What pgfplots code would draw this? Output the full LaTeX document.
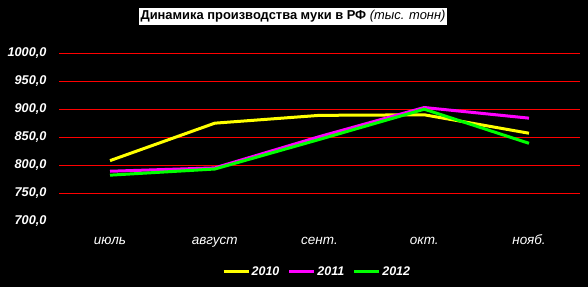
\documentclass[border=0pt]{standalone}
\usepackage{fontspec}
\setmainfont{Liberation Sans}
\usepackage{pgfplots}
\pgfplotsset{compat=1.18}
\definecolor{cyel}{RGB}{255,255,0}
\definecolor{cmag}{RGB}{255,0,255}
\definecolor{cgrn}{RGB}{0,255,0}
\definecolor{cred}{RGB}{255,0,0}
\begin{document}
\begin{tikzpicture}
\fill[black] (0pt,0pt) rectangle (588pt,287pt);
\node[fill=white, text=black, inner xsep=1.5pt, inner ysep=2.5pt, font=\fontsize{12.9}{15}\selectfont] at (293pt,270.5pt)
  {\bfseries Динамика производства муки в РФ \mdseries\itshape (тыс. тонн)};
\begin{axis}[
  at={(59pt,66pt)}, anchor=south west,
  width=521pt, height=167.7pt, scale only axis,
  xmin=-0.487, xmax=4.487, ymin=700, ymax=1000,
  xtick={0,1,2,3,4},
  xticklabels={июль,август,сент.,окт.,нояб.},
  ytick={750,800,850,900,950,1000},
  extra y ticks={700},
  extra y tick style={grid=none},
  ymajorgrids, major grid style={cred, line width=1pt},
  axis line style={draw=none},
  major tick length=0pt,
  tick style={draw=none},
  xticklabel style={font=\fontsize{13.5}{15}\selectfont\itshape, text=white, anchor=base, yshift=-23pt},
  yticklabel style={font=\fontsize{12.7}{15}\selectfont\bfseries\itshape, text=white, xshift=-9pt},
  /pgf/number format/assume math mode=true,
  yticklabel={\pgfmathprintnumber[fixed, fixed zerofill, precision=1, use comma, 1000 sep={}]{\tick}},
  legend columns=3,
  legend style={at={(0.495,-0.304)}, anchor=center, draw=none, fill=black, text=white,
    font=\fontsize{12.5}{14}\selectfont\bfseries\itshape,
    /tikz/every even column/.append style={column sep=7pt},
    nodes={inner sep=1.5pt}},
  legend image code/.code={\draw[#1] (0pt,0pt) -- (25pt,0pt);},
]
\addplot[cyel, line width=3pt] coordinates {(0,808) (1,875) (2,889) (3,890) (4,857)};
\addlegendentry{2010}
\addplot[cmag, line width=3pt] coordinates {(0,789) (1,795) (2,851) (3,903) (4,884)};
\addlegendentry{2011}
\addplot[cgrn, line width=3pt] coordinates {(0,782) (1,793) (2,846) (3,900) (4,839)};
\addlegendentry{2012}
\end{axis}
\end{tikzpicture}
\end{document}
